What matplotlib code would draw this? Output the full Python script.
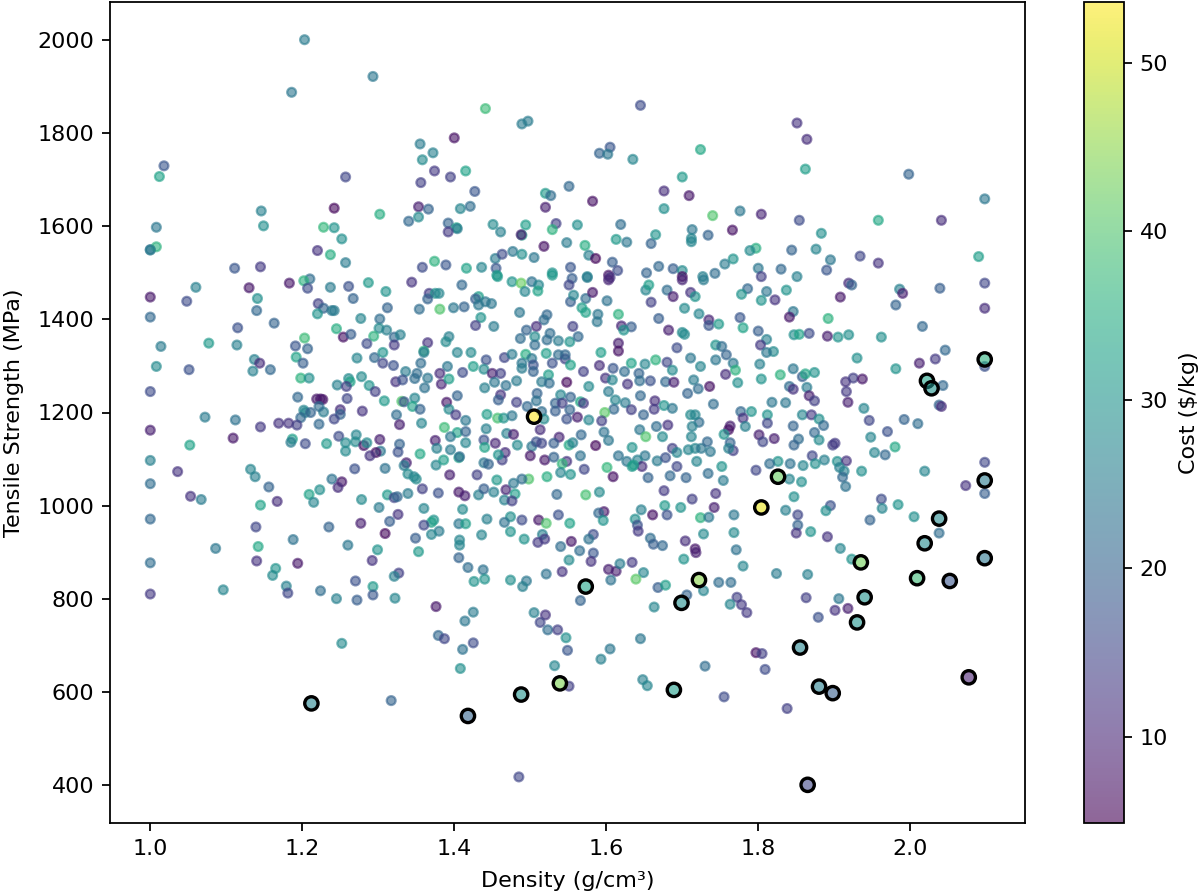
#!/usr/bin/python
# -*- coding:utf8 -*-

import numpy as np
import matplotlib
matplotlib.use('Agg')
import matplotlib.pyplot as plt

density_top_left = [1.203, 1.293, 1.186, 1.018, 1.012, 1.257, 1.242, 1.302, 1.146, 1.149,
                    1.008, 1.340, 1.228, 1.242, 1.252, 1.220, 1.237, 1.257, 1.111, 1.145,
                    1.000, 1.008, 1.000, 1.210, 1.202]
strength_top_left = [2001, 1922, 1888, 1730, 1707, 1706, 1639, 1626, 1633, 1601,
                     1598, 1611, 1598, 1597, 1573, 1548, 1539, 1522, 1510, 1513,
                     1550, 1556, 1549, 1487, 1483]
cost_top_left = [25, 24, 24, 18, 33, 15, 6, 35, 26, 29,
                 24, 21, 37, 30, 29, 12, 35, 25, 18, 13,
                 22, 36, 25, 22, 36]

density_top_mid = [1.441, 1.489, 1.497, 1.400, 1.645, 1.355, 1.372, 1.358, 1.374, 1.415,
                   1.395, 1.356, 1.427, 1.353, 1.366, 1.353, 1.408, 1.421, 1.392, 1.403,
                   1.404, 1.392, 1.451, 1.461, 1.494, 1.489, 1.488, 1.534, 1.529, 1.520,
                   1.520, 1.527, 1.551, 1.582, 1.562, 1.619, 1.548, 1.518, 1.572, 1.613,
                   1.627, 1.659, 1.665, 1.676, 1.700, 1.724, 1.709, 1.740, 1.676, 1.713,
                   1.712, 1.712, 1.734, 1.635, 1.591, 1.605, 1.602, 1.477, 1.454, 1.463,
                   1.489, 1.505, 1.577, 1.586, 1.608, 1.615, 1.553, 1.529, 1.575, 1.603,
                   1.653, 1.669, 1.688, 1.700, 1.700, 1.727, 1.743, 1.358, 1.374, 1.389,
                   1.416, 1.436, 1.455, 1.456]
strength_top_mid = [1853, 1820, 1826, 1790, 1860, 1777, 1758, 1743, 1719, 1719,
                    1706, 1694, 1675, 1642, 1637, 1620, 1638, 1643, 1607, 1597,
                    1595, 1588, 1604, 1588, 1603, 1581, 1582, 1606, 1593, 1641,
                    1671, 1666, 1686, 1654, 1603, 1604, 1565, 1557, 1559, 1572,
                    1566, 1563, 1582, 1676, 1706, 1765, 1666, 1623, 1638, 1593,
                    1574, 1567, 1581, 1744, 1757, 1770, 1755, 1546, 1531, 1540,
                    1540, 1533, 1538, 1531, 1523, 1505, 1512, 1500, 1492, 1495,
                    1500, 1514, 1509, 1505, 1492, 1492, 1499, 1512, 1525, 1517,
                    1510, 1512, 1510, 1495]
cost_top_mid = [38, 25, 25, 7, 16, 25, 26, 28, 13, 33,
                14, 14, 18, 9, 20, 28, 27, 22, 20, 33,
                25, 13, 28, 26, 32, 33, 9, 14, 36, 9,
                31, 22, 21, 7, 29, 22, 25, 7, 35, 31,
                24, 20, 30, 11, 31, 34, 8, 40, 29, 24,
                27, 27, 20, 27, 20, 18, 24, 24, 25, 16,
                29, 24, 26, 6, 19, 16, 18, 30, 27, 8,
                20, 21, 19, 28, 7, 26, 22, 16, 36, 18,
                33, 27, 18, 31]

density_top_right = [1.851, 1.864, 1.862, 1.998, 2.098, 1.776, 1.804, 1.854, 1.958, 2.041,
                     1.766, 1.883, 1.797, 1.789, 1.844, 1.876, 1.767, 1.756, 1.800, 1.830,
                     1.895, 1.890, 1.934, 1.958, 2.090, 1.804, 1.851]
strength_top_right = [1822, 1787, 1723, 1712, 1659, 1633, 1626, 1613, 1613, 1613,
                      1592, 1585, 1553, 1548, 1549, 1551, 1530, 1519, 1510, 1508,
                      1528, 1506, 1536, 1521, 1535, 1492, 1492]
cost_top_right = [12, 11, 32, 20, 24, 24, 10, 16, 34, 11,
                  7, 29, 35, 28, 20, 27, 30, 25, 24, 21,
                  24, 18, 15, 12, 32, 14, 26]

density_mid_left = [1.060, 1.000, 1.048, 1.130, 1.141, 1.140, 1.000, 1.163, 1.115, 1.183,
                    1.207, 1.237, 1.261, 1.287, 1.310, 1.344, 1.267, 1.221, 1.228, 1.239,
                    1.242, 1.220, 1.312, 1.277, 1.302, 1.301, 1.311, 1.321, 1.329, 1.245,
                    1.254, 1.264, 1.294, 1.285, 1.321, 1.203, 1.191, 1.207, 1.192, 1.201,
                    1.077, 1.014, 1.114, 1.008, 1.051, 1.137, 1.144, 1.135, 1.158, 1.000,
                    1.198, 1.209, 1.272, 1.295, 1.306, 1.306, 1.320, 1.336, 1.323, 1.332,
                    1.348, 1.261, 1.263, 1.246, 1.258, 1.278, 1.288, 1.296, 1.259, 1.308,
                    1.194, 1.219, 1.227, 1.224, 1.331, 1.334, 1.348, 1.345, 1.202, 1.204,
                    1.198, 1.211, 1.228, 1.222, 1.250, 1.250, 1.242, 1.279, 1.324, 1.328,
                    1.072, 1.112, 1.000, 1.145, 1.169, 1.182, 1.193, 1.222, 1.109, 1.052,
                    1.187, 1.185, 1.204, 1.232, 1.248, 1.257, 1.271, 1.270, 1.257, 1.281,
                    1.285, 1.302, 1.303, 1.297, 1.289, 1.328, 1.326, 1.337, 1.334, 1.339,
                    1.347, 1.269, 1.309, 1.000, 1.036, 1.132, 1.138, 1.156, 1.000, 1.239,
                    1.252, 1.247, 1.223, 1.209, 1.215, 1.053, 1.067, 1.167, 1.145, 1.278,
                    1.312, 1.321, 1.325, 1.339, 1.301, 1.326, 1.315, 1.277, 1.235, 1.139,
                    1.000, 1.309, 1.349, 1.188, 1.260, 1.086, 1.142, 1.299]
strength_mid_left = [1469, 1448, 1439, 1468, 1445, 1419, 1405, 1392, 1382, 1478,
                     1467, 1469, 1471, 1479, 1460, 1480, 1445, 1434, 1424, 1419,
                     1419, 1412, 1425, 1402, 1401, 1381, 1377, 1362, 1367, 1380,
                     1362, 1368, 1364, 1348, 1345, 1360, 1343, 1337, 1319, 1306,
                     1349, 1342, 1345, 1299, 1292, 1314, 1306, 1289, 1292, 1245,
                     1274, 1274, 1317, 1318, 1329, 1306, 1301, 1288, 1266, 1270,
                     1273, 1273, 1266, 1259, 1256, 1277, 1258, 1245, 1230, 1225,
                     1233, 1229, 1228, 1229, 1224, 1223, 1231, 1213, 1205, 1200,
                     1189, 1200, 1201, 1213, 1206, 1196, 1186, 1203, 1195, 1174,
                     1190, 1184, 1162, 1169, 1177, 1177, 1173, 1175, 1145, 1130,
                     1143, 1136, 1133, 1133, 1149, 1135, 1152, 1137, 1117, 1129,
                     1135, 1142, 1117, 1114, 1107, 1132, 1115, 1092, 1086, 1068,
                     1062, 1079, 1080, 1097, 1073, 1078, 1062, 1040, 1047, 1057,
                     1051, 1039, 1034, 1024, 1007, 1020, 1013, 1009, 1001, 1013,
                     1023, 1017, 1019, 1026, 996, 981, 966, 962, 954, 954,
                     971, 940, 930, 927, 915, 908, 912, 905]
cost_mid_left = [26, 8, 16, 8, 29, 21, 21, 20, 17, 8,
                 16, 25, 17, 31, 30, 12, 20, 14, 20, 24,
                 25, 30, 20, 27, 22, 28, 26, 21, 26, 35,
                 7, 19, 36, 16, 13, 38, 18, 20, 33, 19,
                 31, 25, 26, 28, 17, 26, 11, 26, 21, 16,
                 36, 29, 27, 21, 30, 15, 17, 25, 12, 17,
                 22, 28, 33, 26, 14, 28, 30, 14, 15, 31,
                 21, 8, 7, 8, 40, 18, 27, 33, 27, 27,
                 21, 20, 25, 22, 11, 20, 15, 12, 22, 9,
                 25, 23, 9, 13, 12, 12, 14, 21, 8, 33,
                 32, 25, 16, 31, 16, 28, 27, 28, 28, 7,
                 28, 9, 24, 7, 12, 20, 17, 9, 25, 28,
                 27, 17, 23, 26, 12, 27, 26, 20, 22, 23,
                 8, 11, 29, 33, 27, 12, 25, 11, 33, 28,
                 31, 15, 21, 25, 25, 12, 19, 9, 20, 15,
                 21, 6, 19, 23, 24, 24, 34, 30]

density_centre = [1.457, 1.476, 1.488, 1.493, 1.502, 1.511, 1.510, 1.529, 1.555, 1.551,
                  1.575, 1.605, 1.410, 1.367, 1.375, 1.380, 1.365, 1.354, 1.381, 1.399,
                  1.413, 1.432, 1.428, 1.441, 1.449, 1.432, 1.435, 1.428, 1.452, 1.486,
                  1.522, 1.518, 1.508, 1.495, 1.487, 1.506, 1.526, 1.522, 1.537, 1.506,
                  1.552, 1.563, 1.556, 1.553, 1.557, 1.573, 1.582, 1.568, 1.573, 1.589,
                  1.588, 1.601, 1.616, 1.620, 1.633, 1.623, 1.603, 1.616, 1.616, 1.593,
                  1.591, 1.570, 1.609, 1.624, 1.633, 1.651, 1.665, 1.680, 1.687, 1.711,
                  1.724, 1.744, 1.744, 1.693, 1.682, 1.700, 1.703, 1.669, 1.659, 1.652,
                  1.656, 1.680, 1.688, 1.711, 1.717, 1.700, 1.728, 1.703, 1.722, 1.735,
                  1.735, 1.748, 1.393, 1.389, 1.365, 1.360, 1.360, 1.404, 1.422, 1.442,
                  1.466, 1.476, 1.494, 1.502, 1.489, 1.521, 1.537, 1.546, 1.553, 1.546,
                  1.529, 1.504, 1.524, 1.504, 1.489, 1.425, 1.391, 1.381, 1.356, 1.351,
                  1.365, 1.383, 1.393, 1.411, 1.439, 1.450, 1.461, 1.440, 1.453, 1.468,
                  1.482, 1.461, 1.458, 1.404, 1.361, 1.390, 1.482, 1.515, 1.525, 1.548,
                  1.577, 1.599, 1.608, 1.628, 1.643, 1.644, 1.658, 1.678, 1.689, 1.715,
                  1.721, 1.736, 1.707, 1.741, 1.603, 1.509, 1.540, 1.553, 1.566, 1.570,
                  1.533, 1.542, 1.508, 1.496, 1.612, 1.625, 1.645, 1.664, 1.676, 1.687,
                  1.610, 1.598, 1.633, 1.663, 1.649, 1.355, 1.393, 1.402, 1.443, 1.457,
                  1.465, 1.476, 1.515, 1.518, 1.533, 1.552, 1.548, 1.562, 1.577, 1.594,
                  1.415, 1.357, 1.387, 1.404, 1.415, 1.395, 1.442, 1.469, 1.478, 1.513,
                  1.538, 1.567, 1.597, 1.603, 1.644, 1.652, 1.681, 1.666, 1.674, 1.712,
                  1.722, 1.711, 1.717, 1.713, 1.375, 1.377, 1.395, 1.355, 1.406, 1.407,
                  1.415, 1.439, 1.440, 1.454, 1.467, 1.463, 1.458, 1.483, 1.502, 1.508,
                  1.515, 1.500, 1.519, 1.531, 1.531, 1.551, 1.556, 1.586, 1.566, 1.548,
                  1.542, 1.571, 1.540, 1.553, 1.522, 1.498, 1.489, 1.601, 1.609, 1.634,
                  1.616, 1.627, 1.634, 1.651, 1.641, 1.667, 1.678, 1.687, 1.693, 1.708,
                  1.717, 1.725, 1.733, 1.737, 1.719, 1.693, 1.684, 1.705, 1.734, 1.655,
                  1.647, 1.636, 1.376, 1.386, 1.394, 1.430, 1.439, 1.445, 1.456, 1.350,
                  1.358, 1.379, 1.406, 1.414, 1.432, 1.439, 1.452, 1.468, 1.478, 1.480,
                  1.466, 1.476, 1.535, 1.573, 1.591, 1.676, 1.713, 1.744, 1.360, 1.411,
                  1.742, 1.677, 1.698, 1.537, 1.646, 1.597, 1.590, 1.661, 1.680, 1.724,
                  1.735, 1.638, 1.596, 1.443, 1.474, 1.466, 1.489, 1.511, 1.521, 1.552,
                  1.373, 1.370, 1.360, 1.380, 1.370, 1.406, 1.415, 1.436, 1.474, 1.492,
                  1.516, 1.510, 1.519, 1.554, 1.583, 1.577, 1.540, 1.407, 1.407, 1.641,
                  1.642, 1.728, 1.704, 1.658, 1.674, 1.662, 1.717]
strength_centre = [1492, 1481, 1478, 1460, 1481, 1474, 1461, 1495, 1488, 1474,
                   1490, 1490, 1474, 1456, 1456, 1456, 1444, 1422, 1422, 1425,
                   1427, 1449, 1444, 1438, 1434, 1431, 1404, 1387, 1385, 1415,
                   1410, 1399, 1385, 1377, 1359, 1363, 1370, 1356, 1354, 1345,
                   1352, 1363, 1385, 1438, 1452, 1445, 1458, 1425, 1415, 1411,
                   1395, 1440, 1411, 1386, 1384, 1377, 1485, 1349, 1332, 1329,
                   1301, 1288, 1295, 1288, 1306, 1304, 1313, 1308, 1291, 1317,
                   1299, 1345, 1313, 1339, 1377, 1372, 1368, 1402, 1437, 1463,
                   1474, 1463, 1449, 1458, 1449, 1485, 1485, 1424, 1412, 1399,
                   1387, 1390, 1363, 1352, 1350, 1332, 1329, 1329, 1329, 1313,
                   1318, 1325, 1325, 1316, 1306, 1327, 1324, 1315, 1302, 1324,
                   1306, 1302, 1281, 1288, 1295, 1299, 1299, 1284, 1306, 1284,
                   1274, 1261, 1272, 1286, 1293, 1284, 1284, 1253, 1265, 1258,
                   1268, 1238, 1227, 1236, 1253, 1222, 1222, 1266, 1263, 1265,
                   1256, 1274, 1270, 1261, 1284, 1268, 1268, 1266, 1265, 1270,
                   1251, 1256, 1241, 1218, 1245, 1241, 1238, 1233, 1223, 1220,
                   1220, 1220, 1225, 1213, 1227, 1221, 1236, 1225, 1215, 1209,
                   1207, 1200, 1206, 1207, 1195, 1207, 1207, 1195, 1196, 1188,
                   1188, 1193, 1202, 1186, 1203, 1206, 1186, 1190, 1184, 1182,
                   1183, 1177, 1168, 1157, 1159, 1148, 1165, 1155, 1153, 1163,
                   1147, 1152, 1158, 1140, 1163, 1148, 1173, 1170, 1148, 1148,
                   1179, 1195, 1195, 1170, 1140, 1123, 1120, 1111, 1103, 1105,
                   1135, 1141, 1125, 1134, 1114, 1098, 1109, 1130, 1127, 1137,
                   1134, 1107, 1098, 1134, 1104, 1130, 1135, 1129, 1107, 1095,
                   1090, 1078, 1071, 1067, 1062, 1057, 1057, 1082, 1062, 1125,
                   1107, 1095, 1084, 1107, 1098, 1096, 1103, 1123, 1114, 1120,
                   1123, 1123, 1137, 1116, 1095, 1084, 1064, 1060, 1069, 1060,
                   1084, 1087, 1087, 1098, 1066, 1066, 1092, 1089, 1055, 1057,
                   1036, 1027, 1029, 1021, 1023, 1036, 1029, 1034, 1048, 1025,
                   1012, 1010, 1024, 1023, 1029, 1032, 1014, 1026, 994, 992,
                   996, 1000, 996, 980, 991, 987, 984, 980, 980, 974,
                   975, 971, 968, 971, 976, 964, 969, 969, 962, 962,
                   969, 964, 958, 945, 938, 961, 961, 937, 944, 928,
                   938, 921, 928, 923, 938, 928, 912, 926, 915, 958,
                   945, 939, 924, 930, 914, 917, 907]
cost_centre = [31, 30, 42, 27, 23, 27, 33, 31, 19, 15,
               25, 12, 21, 13, 30, 27, 20, 22, 40, 24,
               20, 32, 19, 24, 24, 24, 30, 14, 25, 24,
               21, 22, 11, 20, 22, 28, 22, 22, 25, 22,
               30, 21, 14, 19, 27, 22, 8, 32, 33, 24,
               24, 23, 36, 10, 19, 30, 10, 9, 7, 32,
               11, 14, 18, 22, 33, 27, 36, 15, 28, 24,
               27, 30, 24, 16, 9, 28, 28, 19, 14, 27,
               32, 22, 9, 12, 30, 10, 25, 28, 27, 10,
               18, 31, 26, 28, 12, 36, 25, 27, 28, 17,
               15, 25, 35, 24, 24, 32, 22, 15, 33, 21,
               17, 17, 32, 20, 25, 32, 24, 11, 22, 22,
               24, 10, 32, 16, 28, 9, 14, 26, 24, 23,
               25, 12, 19, 20, 23, 8, 14, 25, 22, 6,
               28, 12, 27, 12, 20, 22, 17, 21, 9, 25,
               22, 7, 20, 22, 25, 20, 27, 20, 34, 13,
               20, 14, 23, 21, 27, 25, 21, 11, 30, 24,
               21, 41, 14, 13, 20, 20, 28, 13, 32, 39,
               30, 24, 22, 28, 19, 20, 17, 9, 27, 14,
               24, 27, 38, 33, 20, 24, 26, 26, 9, 11,
               10, 21, 23, 24, 24, 40, 12, 22, 28, 27,
               22, 28, 27, 26, 9, 26, 25, 34, 33, 22,
               27, 17, 33, 10, 11, 14, 30, 28, 24, 17,
               15, 8, 8, 19, 20, 34, 26, 6, 23, 12,
               37, 15, 27, 30, 35, 40, 22, 37, 7, 30,
               23, 24, 31, 24, 26, 25, 17, 14, 27, 27,
               27, 24, 21, 24, 27, 15, 21, 20, 22, 20,
               11, 32, 27, 32, 9, 14, 24, 20, 31, 28,
               14, 17, 8, 9, 26, 19, 26, 10, 24, 32,
               26, 14, 21, 39, 28, 13, 14, 12, 27, 28,
               9, 31, 30, 17, 26, 8, 21, 7, 17, 36,
               24, 29, 30, 26, 29, 23, 16, 8, 40, 33,
               30, 33, 15, 25, 27, 24, 32, 27, 30, 30,
               26, 13, 13, 8, 16, 23, 22, 27, 27, 17,
               13, 28, 11, 22, 21, 19, 8]

density_mid_right = [1.786, 1.778, 1.811, 1.837, 1.804, 1.822, 1.919, 1.923, 1.908, 1.986,
                     1.990, 2.039, 2.098, 2.098, 1.981, 1.846, 1.841, 1.776, 1.892, 1.780,
                     2.016, 1.800, 1.847, 1.854, 1.867, 1.891, 1.905, 1.919, 1.962, 1.811,
                     1.803, 1.820, 1.811, 1.752, 1.758, 1.767, 1.770, 1.757, 1.773, 1.802,
                     1.804, 1.829, 1.846, 1.858, 1.862, 1.874, 1.841, 1.846, 1.864, 1.867,
                     1.874, 1.818, 1.836, 1.930, 1.981, 2.012, 2.033, 2.046, 2.098, 2.043,
                     1.915, 1.925, 1.937, 1.916, 1.918, 1.939, 2.038, 2.041, 1.777, 1.791,
                     1.780, 1.783, 1.812, 1.812, 1.858, 1.870, 1.880, 1.846, 1.886, 1.946,
                     1.992, 2.010, 1.970, 1.948, 1.763, 1.761, 1.755, 1.801, 1.806, 1.821,
                     1.763, 1.767, 1.761, 1.874, 1.880, 1.853, 1.847, 1.898, 1.901, 1.980,
                     1.953, 1.967, 1.871, 1.887, 1.875, 1.859, 1.842, 1.826, 1.815, 1.797,
                     1.904, 1.916, 1.907, 1.913, 1.936, 1.911, 1.915, 1.752, 1.754, 1.841,
                     1.857, 2.019, 2.098, 2.098, 2.073, 1.847, 1.962, 1.895, 1.889, 1.836,
                     1.963, 1.984, 1.852, 1.852, 1.850, 1.869, 1.891, 1.768, 1.768, 1.947,
                     2.005, 2.038, 1.908, 1.771]
strength_mid_right = [1466, 1454, 1460, 1463, 1441, 1442, 1478, 1474, 1448, 1465,
                      1456, 1467, 1478, 1424, 1431, 1417, 1405, 1404, 1402, 1382,
                      1385, 1375, 1367, 1368, 1370, 1364, 1362, 1367, 1362, 1357,
                      1345, 1331, 1329, 1342, 1324, 1306, 1291, 1282, 1264, 1304,
                      1272, 1281, 1294, 1277, 1283, 1286, 1256, 1250, 1254, 1236,
                      1225, 1222, 1221, 1317, 1294, 1306, 1315, 1334, 1299, 1258,
                      1266, 1274, 1272, 1245, 1222, 1209, 1216, 1213, 1202, 1202,
                      1188, 1170, 1195, 1177, 1195, 1195, 1186, 1171, 1172, 1183,
                      1185, 1176, 1159, 1147, 1171, 1163, 1153, 1152, 1137, 1144,
                      1135, 1118, 1123, 1157, 1141, 1143, 1130, 1130, 1134, 1126,
                      1114, 1109, 1107, 1098, 1090, 1086, 1090, 1095, 1090, 1076,
                      1095, 1096, 1082, 1074, 1074, 1061, 1041, 1084, 1054, 1057,
                      1051, 1074, 1093, 1026, 1043, 1019, 1014, 1000, 989, 990,
                      994, 1002, 980, 958, 941, 944, 933, 980, 942, 969,
                      976, 941, 908, 905]
cost_mid_right = [21, 30, 24, 30, 30, 12, 11, 20, 8, 26,
                  9, 19, 15, 11, 20, 24, 8, 18, 36, 33,
                  21, 19, 29, 33, 16, 9, 30, 29, 29, 26,
                  13, 28, 24, 22, 20, 24, 36, 11, 29, 26,
                  30, 36, 24, 19, 34, 30, 22, 12, 25, 9,
                  14, 24, 24, 29, 30, 9, 13, 21, 17, 21,
                  12, 14, 8, 13, 9, 27, 20, 11, 21, 30,
                  12, 26, 30, 15, 27, 13, 29, 20, 21, 15,
                  20, 22, 17, 27, 9, 7, 30, 9, 15, 9,
                  20, 14, 26, 21, 28, 22, 20, 14, 13, 34,
                  27, 21, 15, 26, 29, 27, 23, 30, 22, 15,
                  29, 12, 26, 26, 29, 21, 23, 30, 25, 27,
                  29, 27, 15, 19, 12, 29, 16, 17, 29, 26,
                  27, 30, 15, 20, 12, 30, 12, 24, 28, 20,
                  29, 22, 27, 23]

density_low = [1.000, 1.000, 1.140, 1.165, 1.161, 1.194, 1.096, 1.179, 1.181, 1.224,
               1.245, 1.272, 1.270, 1.292, 1.293, 1.293, 1.322, 1.327, 1.321, 1.252,
               1.317, 1.353, 1.406, 1.418, 1.438, 1.426, 1.440, 1.474, 1.495, 1.490,
               1.521, 1.542, 1.551, 1.565, 1.583, 1.580, 1.603, 1.613, 1.618, 1.634,
               1.649, 1.639, 1.606, 1.668, 1.678, 1.702, 1.718, 1.748, 1.706, 1.728,
               1.663, 1.376, 1.425, 1.414, 1.566, 1.505, 1.520, 1.513, 1.523, 1.536,
               1.547, 1.549, 1.379, 1.387, 1.425, 1.411, 1.408, 1.645, 1.605, 1.593,
               1.532, 1.730, 1.648, 1.654, 1.551, 1.485, 1.780, 1.824, 1.865, 1.923,
               1.764, 1.772, 1.763, 1.778, 1.785, 1.863, 1.906, 1.918, 1.901, 1.879,
               1.797, 1.805, 1.809, 1.755, 1.838]
strength_low = [877, 810, 881, 865, 850, 876, 819, 827, 812, 817,
                800, 797, 838, 882, 826, 808, 801, 855, 848, 704,
                581, 901, 888, 867, 862, 837, 842, 840, 838, 826,
                853, 858, 883, 903, 898, 880, 863, 859, 875, 878,
                856, 842, 840, 824, 829, 885, 899, 835, 808, 817,
                782, 783, 771, 752, 796, 770, 765, 749, 733, 733,
                716, 689, 721, 714, 705, 691, 650, 714, 692, 670,
                656, 655, 626, 613, 612, 417, 870, 854, 852, 885,
                835, 803, 788, 787, 770, 802, 800, 779, 775, 760,
                684, 682, 648, 589, 564]
cost_low = [22, 13, 12, 30, 28, 8, 27, 26, 15, 22,
            26, 19, 17, 12, 31, 18, 27, 14, 26, 28,
            20, 31, 20, 22, 23, 30, 30, 29, 24, 26,
            23, 12, 28, 22, 18, 12, 9, 9, 25, 13,
            27, 41, 23, 19, 32, 30, 9, 22, 20, 27,
            27, 8, 25, 24, 20, 26, 12, 15, 22, 14,
            29, 18, 21, 15, 16, 23, 29, 24, 24, 26,
            27, 22, 26, 27, 14, 15, 27, 25, 26, 30,
            22, 14, 27, 13, 13, 14, 24, 9, 12, 17,
            7, 14, 16, 16, 14]

# the ringed points
density_ringed = [1.505, 2.098, 2.022, 2.028, 1.826, 1.804, 2.098, 2.038, 2.019, 1.212,
                  1.573, 1.722, 1.699, 1.539, 1.488, 1.689, 1.418, 1.935, 2.009, 2.052,
                  1.940, 2.098, 1.930, 1.855, 1.880, 1.898, 2.077, 1.865]
strength_ringed = [1191, 1314, 1268, 1252, 1062, 996, 1054, 972, 919, 575,
                   826, 840, 791, 618, 594, 604, 548, 878, 844, 838,
                   803, 887, 749, 695, 611, 597, 631, 400]
cost_ringed = [53.5, 36, 33, 30, 42, 52, 25, 28, 28, 27,
               33, 45, 29, 44, 30, 32, 20, 43, 38, 18,
               30, 24, 30, 27, 26, 19, 9, 15]

density = np.concatenate([density_top_left, density_top_mid, density_top_right, density_mid_left,
                          density_centre, density_mid_right, density_low])
strength = np.concatenate([strength_top_left, strength_top_mid, strength_top_right, strength_mid_left,
                           strength_centre, strength_mid_right, strength_low])
cost = np.concatenate([cost_top_left, cost_top_mid, cost_top_right, cost_mid_left,
                       cost_centre, cost_mid_right, cost_low])

# ----------------- plot -----------------
fig = plt.figure(figsize=(7.5, 5.5875), dpi=160)
ax = fig.add_axes([110 / 1200., 71 / 894., 915 / 1200., 821 / 894.])
cax = fig.add_axes([1084 / 1200., 71 / 894., 40 / 1200., 821 / 894.])

sc = ax.scatter(density, strength, c=cost, s=16, cmap='viridis', vmin=4.9, vmax=53.6, alpha=0.6)

ringed_colors = plt.cm.viridis(plt.Normalize(4.9, 53.6)(cost_ringed))
ringed_colors[:, 3] = 0.6
ax.scatter(density_ringed, strength_ringed, s=36, facecolors=ringed_colors, edgecolors='black', linewidths=1.5)

ax.set_xlim(0.947, 2.151)
ax.set_ylim(318, 2082)
ax.set_xticks([1.0, 1.2, 1.4, 1.6, 1.8, 2.0])
ax.set_yticks([400, 600, 800, 1000, 1200, 1400, 1600, 1800, 2000])
ax.set_xlabel('Density (g/cm³)', labelpad=5.5)
ax.set_ylabel('Tensile Strength (MPa)', labelpad=6)

cbar = fig.colorbar(sc, cax=cax)
cbar.set_ticks([10, 20, 30, 40, 50])
cbar.set_label('Cost (\\$/kg)', labelpad=5)

fig.savefig('out.png', dpi=160)
